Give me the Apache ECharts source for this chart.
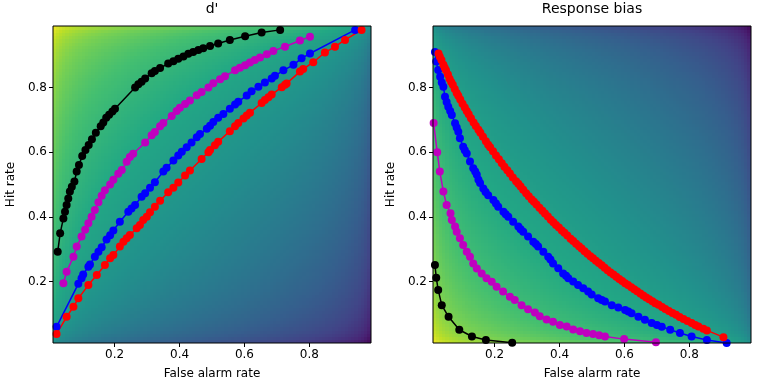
<!DOCTYPE html>
<html><head><meta charset="utf-8">
<script src="https://cdn.jsdelivr.net/npm/echarts@6/dist/echarts.min.js"></script>
<style>html,body{margin:0;padding:0;background:#fff}#c{width:759px;height:386px}</style>
</head><body><div id="c"></div>
<script>
// ---- background grid: cell-centre rates 0.015 ... 0.495 and their z-scores (lower half) ----
const rateLowerHalf = [0.015,0.025,0.035,0.045,0.055,0.065,0.075,0.085,0.095,0.105,0.115,0.125,0.135,0.145,0.155,0.165,0.175,0.185,0.195,0.205,0.215,0.225,0.235,0.245,0.255,0.265,0.275,0.285,0.295,0.305,0.315,0.325,0.335,0.345,0.355,0.365,0.375,0.385,0.395,0.405,0.415,0.425,0.435,0.445,0.455,0.465,0.475,0.485,0.495];
const zLowerHalf = [-2.1701,-1.9600,-1.8119,-1.6954,-1.5982,-1.5141,-1.4395,-1.3722,-1.3106,-1.2536,-1.2004,-1.1503,-1.1031,-1.0581,-1.0152,-0.9741,-0.9346,-0.8965,-0.8596,-0.8239,-0.7892,-0.7554,-0.7225,-0.6903,-0.6588,-0.6280,-0.5978,-0.5681,-0.5388,-0.5101,-0.4817,-0.4538,-0.4261,-0.3989,-0.3719,-0.3451,-0.3186,-0.2924,-0.2663,-0.2404,-0.2147,-0.1891,-0.1637,-0.1383,-0.1130,-0.0878,-0.0627,-0.0376,-0.0125];
const cellWidth = 0.01;
const dprimeColorRange = [-4.65, 4.65];
const biasColorRange = [-2.33, 2.33];
const axisRange = [0.01, 0.99];
const tickValues = [0.2, 0.4, 0.6, 0.8];
const viridis = ['#440154','#482475','#414487','#355f8d','#2a788e','#21918c','#22a884','#44bf70','#7ad151','#bddf26','#fde725'];

// ---- d' panel: [false alarm rate, hit rate] ----
const dpBlack = [[0.0245,0.292],[0.032,0.349],[0.042,0.395],[0.047,0.416],[0.052,0.437],[0.057,0.457],[0.062,0.478],[0.068,0.493],[0.076,0.509],[0.083,0.540],[0.090,0.560],[0.100,0.588],[0.110,0.607],[0.120,0.622],[0.130,0.640],[0.142,0.660],[0.157,0.680],[0.165,0.692],[0.174,0.706],[0.183,0.716],[0.193,0.726],[0.201,0.734],[0.263,0.800],[0.273,0.810],[0.283,0.818],[0.294,0.828],[0.314,0.844],[0.324,0.851],[0.340,0.860],[0.365,0.874],[0.381,0.881],[0.396,0.889],[0.412,0.896],[0.427,0.904],[0.442,0.910],[0.458,0.916],[0.473,0.921],[0.494,0.928],[0.519,0.936],[0.555,0.947],[0.602,0.958],[0.653,0.970],[0.710,0.978]];
const dpMagenta = [[0.042,0.195],[0.052,0.230],[0.073,0.277],[0.083,0.308],[0.098,0.339],[0.109,0.360],[0.119,0.380],[0.129,0.400],[0.139,0.421],[0.150,0.445],[0.160,0.465],[0.170,0.482],[0.186,0.500],[0.196,0.515],[0.211,0.533],[0.222,0.545],[0.237,0.570],[0.247,0.585],[0.257,0.595],[0.294,0.630],[0.314,0.652],[0.324,0.662],[0.340,0.680],[0.350,0.690],[0.376,0.712],[0.391,0.727],[0.401,0.737],[0.417,0.749],[0.432,0.760],[0.453,0.776],[0.468,0.786],[0.489,0.800],[0.504,0.813],[0.525,0.825],[0.540,0.835],[0.571,0.853],[0.586,0.861],[0.602,0.869],[0.617,0.877],[0.632,0.885],[0.648,0.893],[0.669,0.903],[0.689,0.913],[0.725,0.926],[0.771,0.945],[0.802,0.957]];
const dpBlue = [[0.021,0.060],[0.088,0.193],[0.098,0.210],[0.103,0.222],[0.119,0.246],[0.124,0.253],[0.139,0.277],[0.150,0.292],[0.160,0.306],[0.175,0.330],[0.186,0.343],[0.196,0.358],[0.216,0.385],[0.242,0.416],[0.252,0.426],[0.263,0.437],[0.283,0.462],[0.294,0.473],[0.309,0.490],[0.324,0.507],[0.350,0.540],[0.360,0.552],[0.381,0.574],[0.396,0.590],[0.407,0.601],[0.422,0.615],[0.437,0.630],[0.453,0.646],[0.463,0.656],[0.484,0.672],[0.494,0.682],[0.504,0.693],[0.519,0.706],[0.535,0.718],[0.555,0.734],[0.571,0.747],[0.581,0.756],[0.607,0.775],[0.622,0.788],[0.643,0.802],[0.663,0.815],[0.684,0.828],[0.694,0.836],[0.720,0.853],[0.751,0.870],[0.776,0.890],[0.802,0.905],[0.941,0.978]];
const dpRed = [[0.021,0.038],[0.052,0.091],[0.073,0.122],[0.088,0.148],[0.119,0.189],[0.145,0.220],[0.170,0.251],[0.186,0.272],[0.196,0.282],[0.216,0.308],[0.227,0.323],[0.237,0.334],[0.247,0.344],[0.268,0.365],[0.278,0.375],[0.288,0.390],[0.299,0.400],[0.309,0.414],[0.324,0.431],[0.340,0.450],[0.365,0.476],[0.381,0.490],[0.396,0.506],[0.417,0.528],[0.432,0.543],[0.468,0.579],[0.489,0.600],[0.494,0.607],[0.509,0.621],[0.519,0.632],[0.555,0.665],[0.571,0.680],[0.581,0.690],[0.597,0.704],[0.607,0.713],[0.617,0.722],[0.653,0.752],[0.663,0.761],[0.674,0.770],[0.684,0.778],[0.715,0.801],[0.725,0.808],[0.730,0.812],[0.771,0.849],[0.781,0.857],[0.812,0.878],[0.848,0.908],[0.879,0.926],[0.910,0.947],[0.961,0.978]];

// ---- response-bias panel ----
const cBlack = [[0.016,0.251],[0.020,0.212],[0.026,0.174],[0.037,0.127],[0.058,0.091],[0.091,0.051],[0.130,0.030],[0.173,0.019],[0.254,0.011]];
const cMagenta = [[0.012,0.690],[0.023,0.600],[0.031,0.540],[0.042,0.478],[0.052,0.437],[0.064,0.411],[0.068,0.390],[0.078,0.370],[0.083,0.354],[0.093,0.334],[0.103,0.313],[0.114,0.292],[0.124,0.277],[0.134,0.256],[0.145,0.240],[0.160,0.225],[0.175,0.210],[0.191,0.199],[0.206,0.184],[0.226,0.169],[0.247,0.153],[0.262,0.143],[0.283,0.127],[0.303,0.114],[0.324,0.104],[0.339,0.093],[0.360,0.083],[0.380,0.076],[0.401,0.066],[0.422,0.061],[0.442,0.052],[0.463,0.046],[0.483,0.041],[0.503,0.038],[0.522,0.034],[0.540,0.030],[0.599,0.022],[0.697,0.012]];
const cBlue = [[0.016,0.910],[0.020,0.880],[0.026,0.854],[0.032,0.833],[0.037,0.815],[0.042,0.802],[0.047,0.771],[0.052,0.755],[0.057,0.740],[0.063,0.727],[0.068,0.715],[0.078,0.689],[0.083,0.676],[0.088,0.663],[0.093,0.643],[0.103,0.617],[0.108,0.606],[0.114,0.596],[0.124,0.571],[0.134,0.550],[0.140,0.540],[0.145,0.530],[0.150,0.515],[0.155,0.505],[0.165,0.488],[0.172,0.477],[0.180,0.467],[0.196,0.452],[0.204,0.441],[0.211,0.431],[0.227,0.416],[0.234,0.408],[0.242,0.400],[0.257,0.385],[0.273,0.370],[0.280,0.362],[0.288,0.354],[0.303,0.339],[0.319,0.323],[0.327,0.316],[0.334,0.308],[0.350,0.292],[0.365,0.277],[0.372,0.268],[0.380,0.256],[0.396,0.241],[0.411,0.225],[0.420,0.218],[0.427,0.210],[0.442,0.200],[0.457,0.189],[0.473,0.179],[0.488,0.169],[0.499,0.160],[0.519,0.148],[0.530,0.143],[0.540,0.138],[0.561,0.127],[0.581,0.120],[0.602,0.112],[0.612,0.107],[0.622,0.102],[0.643,0.091],[0.663,0.082],[0.684,0.072],[0.700,0.066],[0.715,0.060],[0.741,0.051],[0.771,0.041],[0.807,0.030],[0.854,0.019],[0.915,0.010]];
const cRed = [[0.027,0.905],[0.031,0.895],[0.036,0.885],[0.042,0.870],[0.046,0.861],[0.050,0.853],[0.056,0.840],[0.061,0.827],[0.066,0.817],[0.071,0.808],[0.077,0.795],[0.083,0.783],[0.088,0.774],[0.094,0.763],[0.101,0.750],[0.108,0.738],[0.114,0.727],[0.120,0.717],[0.127,0.705],[0.135,0.692],[0.142,0.681],[0.150,0.669],[0.156,0.660],[0.164,0.648],[0.173,0.634],[0.180,0.623],[0.186,0.615],[0.195,0.603],[0.204,0.590],[0.213,0.578],[0.222,0.566],[0.230,0.555],[0.239,0.544],[0.247,0.534],[0.256,0.522],[0.266,0.510],[0.273,0.502],[0.280,0.494],[0.288,0.484],[0.297,0.473],[0.305,0.464],[0.314,0.454],[0.321,0.447],[0.329,0.438],[0.338,0.428],[0.347,0.419],[0.355,0.410],[0.364,0.401],[0.373,0.391],[0.381,0.383],[0.389,0.375],[0.398,0.367],[0.407,0.358],[0.415,0.351],[0.424,0.342],[0.434,0.332],[0.442,0.325],[0.451,0.317],[0.460,0.309],[0.468,0.302],[0.477,0.294],[0.486,0.286],[0.495,0.278],[0.503,0.272],[0.512,0.264],[0.521,0.257],[0.530,0.250],[0.539,0.243],[0.548,0.235],[0.557,0.228],[0.566,0.222],[0.575,0.215],[0.584,0.208],[0.593,0.202],[0.602,0.195],[0.611,0.189],[0.621,0.182],[0.630,0.176],[0.639,0.170],[0.649,0.163],[0.658,0.157],[0.667,0.151],[0.676,0.145],[0.686,0.139],[0.695,0.133],[0.705,0.128],[0.716,0.121],[0.726,0.115],[0.737,0.109],[0.748,0.103],[0.759,0.097],[0.770,0.090],[0.782,0.084],[0.794,0.078],[0.807,0.072],[0.818,0.066],[0.828,0.061],[0.843,0.054],[0.854,0.049],[0.905,0.028]];

// ---- build background tables from the named arrays (upper half mirrors the lower half) ----
const rates = rateLowerHalf.concat(rateLowerHalf.slice().reverse().map(r => +(1 - r).toFixed(3)));
const zOfRate = zLowerHalf.concat(zLowerHalf.slice().reverse().map(z => -z));
function buildCells(kind) {
  const cells = [];
  for (let i = 0; i < rates.length; i++) {
    for (let j = 0; j < rates.length; j++) {
      const zF = zOfRate[i], zH = zOfRate[j];
      const v = kind === 'd' ? (zH - zF) : -(zH + zF) / 2;
      cells.push([rates[i], rates[j], v]);
    }
  }
  return cells;
}
function renderCell(params, api) {
  const f = api.value(0), h = api.value(1), half = cellWidth / 2;
  const p0 = api.coord([f - half, h + half]);
  const p1 = api.coord([f + half, h - half]);
  const x0 = Math.floor(p0[0]), y0 = Math.floor(p0[1]);
  const x1 = Math.ceil(p1[0]), y1 = Math.ceil(p1[1]);
  return {type: 'rect', shape: {x: x0, y: y0, width: x1 - x0, height: y1 - y0},
          style: {fill: api.visual('color')}, silent: true};
}

const FONT = 'DejaVu Sans';
const gridPos = [
  {left: 53, top: 26, width: 318, height: 317},
  {left: 433, top: 26, width: 318, height: 317}
];

function valXAxis(g) {
  return {
    type: 'value', gridIndex: g, min: axisRange[0], max: axisRange[1],
    axisLine: {show: false}, splitLine: {show: false},
    axisTick: {show: true, customValues: tickValues, length: 4, lineStyle: {color: '#000', width: 1}},
    axisLabel: {customValues: tickValues, formatter: v => v.toFixed(1), color: '#000', fontSize: 12, fontFamily: FONT, margin: 6},
    name: 'False alarm rate', nameLocation: 'middle', nameGap: 25,
    nameTextStyle: {color: '#000', fontSize: 12, fontFamily: FONT}
  };
}
function valYAxis(g) {
  return {
    type: 'value', gridIndex: g, min: axisRange[0], max: axisRange[1],
    axisLine: {show: false}, splitLine: {show: false},
    axisTick: {show: true, customValues: tickValues, length: 4, lineStyle: {color: '#000', width: 1}},
    axisLabel: {customValues: tickValues, formatter: v => v.toFixed(1), color: '#000', fontSize: 12, fontFamily: FONT, margin: 6},
    name: 'Hit rate', nameLocation: 'middle', nameGap: 36,
    nameTextStyle: {color: '#000', fontSize: 12, fontFamily: FONT}
  };
}
function curve(data, color, gi) {
  return {
    type: 'line', xAxisIndex: gi, yAxisIndex: gi, data: data,
    symbol: 'circle', symbolSize: 8, showSymbol: true, showAllSymbol: true,
    lineStyle: {color: color, width: 1.5}, itemStyle: {color: color},
    clip: true, z: 5, animation: false, silent: true
  };
}
function background(kind, gi) {
  return {type: 'custom', xAxisIndex: gi, yAxisIndex: gi, data: buildCells(kind),
          renderItem: renderCell, clip: true, z: 1, silent: true, progressive: 0, animation: false,
          encode: {x: 0, y: 1}};
}

const chart = echarts.init(document.getElementById('c'), null, {renderer: 'canvas'});
chart.setOption({
  animation: false,
  backgroundColor: '#fff',
  title: [
    {text: "d'", left: 212, top: 2, textAlign: 'center', padding: 0, textStyle: {fontSize: 14, fontWeight: 'normal', color: '#000', fontFamily: FONT}},
    {text: 'Response bias', left: 592, top: 2, textAlign: 'center', padding: 0, textStyle: {fontSize: 14, fontWeight: 'normal', color: '#000', fontFamily: FONT}}
  ],
  grid: [
    Object.assign({show: true, borderColor: '#000', borderWidth: 1, backgroundColor: 'transparent', z: 10}, gridPos[0]),
    Object.assign({show: true, borderColor: '#000', borderWidth: 1, backgroundColor: 'transparent', z: 10}, gridPos[1])
  ],
  xAxis: [valXAxis(0), valXAxis(1)],
  yAxis: [valYAxis(0), valYAxis(1)],
  visualMap: [
    {type: 'continuous', show: false, seriesIndex: 0, dimension: 2, min: dprimeColorRange[0], max: dprimeColorRange[1], inRange: {color: viridis}},
    {type: 'continuous', show: false, seriesIndex: 1, dimension: 2, min: biasColorRange[0], max: biasColorRange[1], inRange: {color: viridis}}
  ],
  series: [
    background('d', 0),
    background('c', 1),
    curve(dpBlack, '#000000', 0),
    curve(dpMagenta, '#bf00bf', 0),
    curve(dpBlue, '#0000ff', 0),
    curve(dpRed, '#ff0000', 0),
    curve(cBlack, '#000000', 1),
    curve(cMagenta, '#bf00bf', 1),
    curve(cBlue, '#0000ff', 1),
    curve(cRed, '#ff0000', 1)
  ]
});
</script>
</body></html>
